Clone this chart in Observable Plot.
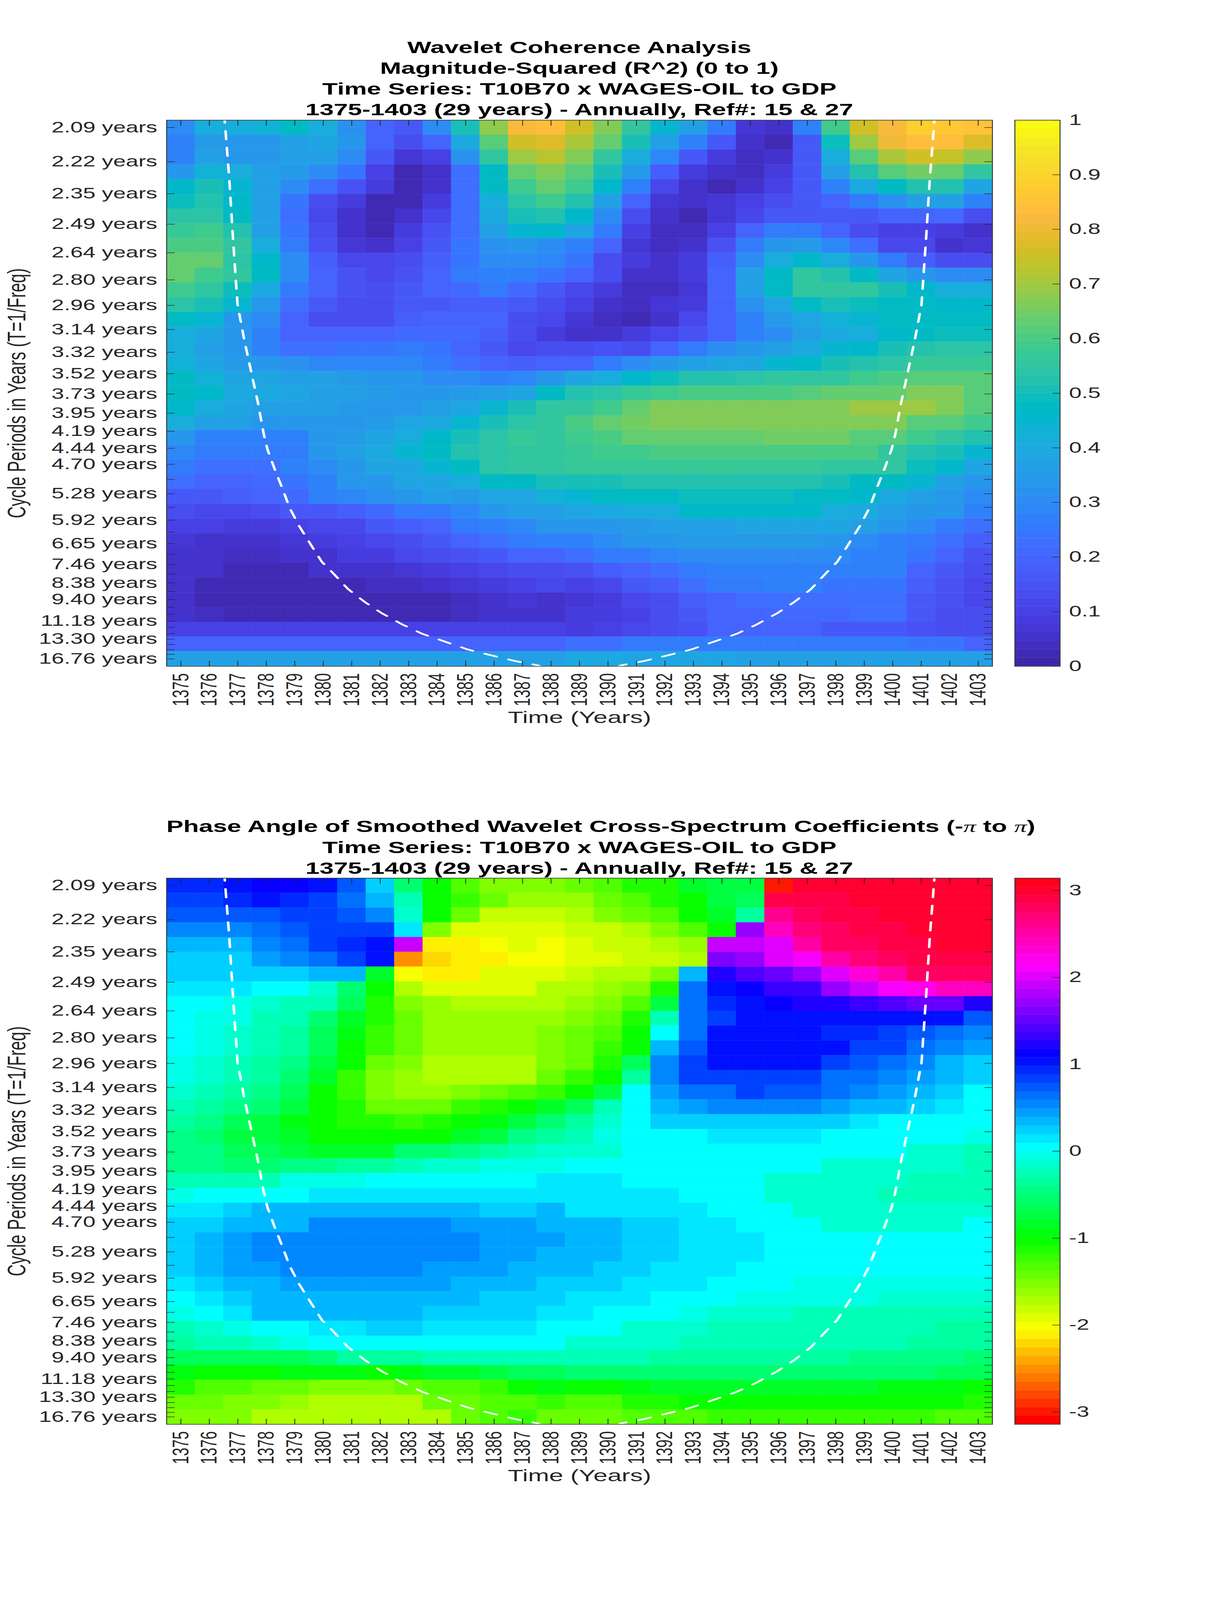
<!DOCTYPE html>
<html>
<head>
<meta charset="utf-8">
<title>Wavelet Coherence Analysis</title>
<script src="https://cdn.jsdelivr.net/npm/d3@7"></script>
<script src="https://cdn.jsdelivr.net/npm/@observablehq/plot@0.6"></script>
<style>
html,body{margin:0;padding:0;background:#fff;overflow:hidden;}
#page{position:absolute;left:0;top:0;width:3125px;height:6252px;background:#fff;overflow:hidden;font-family:"Liberation Sans",Arial,sans-serif;transform-origin:0 0;}
.title{position:absolute;left:426px;width:2113.5px;text-align:center;font-weight:700;font-size:65px;line-height:81.3px;color:#000;white-space:nowrap;}
.title .pi{font-family:"Liberation Serif",serif;font-style:italic;font-weight:400;}
.holder{position:absolute;}
.holder svg{display:block;overflow:visible;}
</style>
</head>
<body>
<div id="page"></div>
<script>
const years = [1375,1376,1377,1378,1379,1380,1381,1382,1383,1384,1385,1386,1387,1388,1389,1390,1391,1392,1393,1394,1395,1396,1397,1398,1399,1400,1401,1402,1403];
const periods = [2.0945,2.2190,2.3510,2.4908,2.6389,2.7958,2.9620,3.1382,3.3247,3.5224,3.7319,3.9538,4.1889,4.4380,4.7019,4.9815,5.2777,5.5915,5.9240,6.2763,6.6495,7.0449,7.4638,7.9077,8.3779,8.8761,9.4039,9.9631,10.5556,11.1833,11.8483,12.5528,13.2993,14.0901,14.9280,15.8157,16.7560];
const periodLabels = ["2.09 years","2.22 years","2.35 years","2.49 years","2.64 years","2.80 years","2.96 years","3.14 years","3.32 years","3.52 years","3.73 years","3.95 years","4.19 years","4.44 years","4.70 years","","5.28 years","","5.92 years","","6.65 years","","7.46 years","","8.38 years","","9.40 years","","","11.18 years","","","13.30 years","","","","16.76 years"];

const coherenceR2 = [
[.30,.42,.42,.43,.47,.42,.32,.20,.17,.30,.50,.68,.82,.83,.75,.66,.55,.45,.37,.25,.07,.06,.27,.58,.75,.82,.88,.87,.85],
[.28,.35,.33,.33,.36,.38,.33,.20,.13,.20,.40,.62,.76,.78,.71,.63,.50,.37,.28,.17,.06,.03,.17,.49,.70,.80,.83,.83,.78],
[.28,.36,.33,.33,.36,.37,.31,.17,.07,.10,.32,.55,.70,.73,.67,.56,.42,.29,.17,.08,.04,.06,.16,.42,.61,.71,.75,.74,.68],
[.34,.43,.41,.36,.35,.31,.24,.10,.03,.05,.23,.47,.63,.66,.62,.50,.35,.18,.08,.05,.04,.09,.16,.36,.52,.62,.65,.64,.55],
[.46,.50,.44,.36,.30,.22,.15,.08,.03,.05,.23,.47,.59,.63,.58,.46,.28,.11,.05,.03,.05,.10,.17,.27,.40,.48,.53,.53,.39],
[.49,.52,.46,.36,.24,.14,.08,.03,.03,.09,.22,.41,.54,.59,.53,.36,.19,.07,.05,.07,.10,.14,.17,.20,.26,.32,.37,.37,.27],
[.54,.54,.48,.36,.23,.12,.05,.02,.05,.12,.22,.40,.51,.53,.46,.31,.13,.06,.03,.07,.12,.17,.17,.17,.17,.20,.20,.21,.13],
[.57,.59,.53,.37,.24,.13,.05,.02,.09,.15,.23,.37,.45,.46,.38,.26,.10,.04,.04,.10,.20,.26,.25,.19,.13,.10,.10,.08,.05],
[.60,.60,.55,.42,.26,.15,.07,.05,.10,.17,.24,.32,.34,.30,.28,.19,.07,.04,.05,.15,.25,.34,.35,.29,.22,.12,.11,.06,.07],
[.63,.63,.54,.46,.30,.18,.11,.11,.14,.18,.24,.31,.30,.29,.24,.14,.08,.05,.09,.18,.30,.42,.46,.42,.34,.26,.18,.14,.14],
[.64,.59,.55,.47,.31,.20,.15,.12,.15,.19,.25,.28,.28,.24,.20,.14,.06,.05,.09,.20,.37,.47,.55,.53,.47,.38,.34,.30,.30],
[.58,.56,.49,.40,.26,.19,.15,.13,.17,.20,.21,.25,.21,.17,.12,.09,.04,.04,.07,.19,.36,.47,.56,.56,.55,.50,.46,.41,.41],
[.54,.51,.44,.33,.23,.16,.13,.13,.17,.17,.18,.18,.17,.14,.10,.06,.04,.07,.09,.19,.32,.39,.47,.50,.49,.47,.47,.46,.46],
[.47,.45,.34,.30,.20,.14,.14,.14,.18,.20,.20,.19,.14,.12,.07,.04,.03,.06,.11,.20,.27,.35,.39,.43,.45,.47,.47,.47,.47],
[.41,.38,.34,.28,.20,.19,.19,.19,.21,.21,.21,.18,.14,.08,.06,.06,.08,.11,.15,.19,.27,.31,.37,.40,.41,.46,.47,.49,.49],
[.41,.37,.33,.28,.23,.23,.24,.24,.25,.24,.20,.17,.12,.13,.14,.15,.14,.19,.25,.30,.33,.36,.40,.45,.46,.50,.52,.54,.54],
[.43,.38,.35,.33,.32,.29,.29,.29,.29,.26,.23,.20,.18,.19,.20,.25,.31,.33,.36,.38,.39,.45,.46,.50,.52,.54,.57,.57,.57],
[.47,.43,.38,.39,.37,.36,.35,.33,.33,.30,.30,.28,.29,.33,.38,.42,.46,.49,.52,.53,.54,.55,.56,.56,.58,.60,.61,.61,.61],
[.48,.46,.40,.40,.38,.37,.37,.35,.34,.33,.35,.36,.38,.47,.52,.54,.57,.59,.60,.60,.60,.60,.62,.63,.64,.64,.665,.665,.62],
[.46,.42,.38,.37,.36,.36,.35,.34,.33,.36,.38,.45,.50,.55,.56,.59,.64,.66,.66,.66,.66,.66,.66,.66,.695,.695,.695,.66,.62],
[.42,.37,.36,.34,.33,.33,.34,.35,.38,.40,.45,.51,.54,.56,.60,.64,.655,.66,.66,.66,.66,.66,.66,.66,.66,.66,.62,.61,.58],
[.33,.28,.28,.27,.27,.33,.35,.38,.41,.46,.51,.54,.57,.56,.58,.60,.625,.625,.625,.625,.625,.645,.645,.645,.61,.61,.58,.56,.52],
[.29,.25,.26,.25,.26,.33,.36,.40,.44,.47,.52,.54,.56,.56,.57,.59,.59,.60,.60,.60,.60,.60,.60,.60,.60,.55,.53,.50,.45],
[.25,.23,.22,.23,.27,.31,.33,.38,.39,.44,.48,.54,.55,.55,.57,.57,.57,.57,.57,.57,.57,.57,.57,.55,.55,.55,.49,.46,.38],
[.23,.20,.20,.21,.24,.27,.33,.34,.38,.39,.41,.47,.47,.50,.50,.50,.52,.52,.52,.53,.53,.52,.52,.50,.47,.47,.44,.37,.33],
[.17,.17,.18,.20,.21,.27,.29,.32,.34,.36,.35,.38,.38,.43,.45,.48,.47,.47,.49,.49,.49,.49,.47,.47,.46,.40,.36,.33,.30],
[.13,.12,.11,.14,.16,.17,.18,.21,.25,.26,.29,.34,.36,.37,.38,.40,.41,.41,.46,.46,.46,.46,.46,.42,.40,.36,.33,.33,.27],
[.10,.10,.08,.09,.10,.11,.12,.16,.18,.20,.25,.27,.29,.33,.34,.34,.35,.37,.37,.37,.38,.38,.38,.38,.37,.33,.30,.26,.22],
[.07,.06,.06,.06,.07,.09,.10,.12,.14,.17,.20,.22,.25,.28,.28,.30,.33,.33,.35,.35,.35,.35,.35,.33,.31,.28,.26,.22,.18],
[.05,.05,.04,.04,.05,.06,.08,.09,.11,.13,.15,.17,.19,.20,.23,.26,.26,.29,.31,.31,.31,.31,.30,.30,.27,.27,.24,.19,.15],
[.05,.05,.03,.03,.03,.05,.05,.06,.07,.08,.10,.12,.13,.14,.15,.18,.20,.23,.25,.27,.28,.28,.28,.28,.27,.27,.20,.17,.13],
[.05,.03,.03,.02,.02,.02,.02,.04,.04,.05,.07,.09,.10,.11,.10,.12,.16,.18,.23,.26,.26,.27,.27,.24,.24,.24,.18,.15,.12],
[.05,.03,.02,.02,.02,.02,.02,.03,.02,.03,.04,.06,.07,.06,.07,.08,.12,.13,.18,.20,.22,.22,.22,.23,.23,.23,.17,.15,.12],
[.05,.04,.03,.03,.02,.02,.02,.02,.02,.03,.04,.05,.06,.06,.08,.09,.10,.14,.16,.19,.19,.21,.21,.21,.22,.22,.16,.14,.13],
[.10,.10,.10,.10,.10,.10,.10,.10,.10,.10,.10,.10,.10,.10,.09,.10,.12,.14,.15,.19,.19,.19,.20,.17,.17,.17,.15,.14,.13],
[.20,.20,.20,.20,.20,.20,.20,.20,.20,.20,.20,.20,.20,.20,.22,.22,.26,.26,.26,.26,.26,.26,.26,.26,.26,.26,.24,.24,.20],
[.37,.37,.37,.37,.37,.37,.37,.37,.37,.37,.37,.37,.37,.37,.40,.40,.39,.39,.39,.39,.36,.36,.36,.36,.36,.36,.36,.36,.36]
];

const phaseAngle = [
[.95,.95,1.05,1.17,1.17,1.07,.72,.23,-.52,-1.0,-1.31,-1.5,-1.5,-1.5,-1.4,-1.3,-1.15,-1.08,-.8,-.75,-.75,-2.95,2.95,2.95,2.95,2.95,2.95,2.95,2.95],
[.86,.86,.92,1.05,.96,.82,.6,.33,-.24,-1.05,-1.25,-1.4,-1.6,-1.62,-1.58,-1.43,-1.3,-1.15,-1.05,-.7,-.65,2.88,2.88,2.88,2.95,2.95,2.95,2.95,2.95],
[.72,.72,.72,.72,.82,.82,.72,.52,-.12,-1.0,-1.43,-1.8,-1.8,-1.8,-1.75,-1.55,-1.43,-1.3,-1.05,-.87,-.38,2.62,2.81,2.88,2.88,2.98,2.98,2.98,2.98],
[.52,.52,.52,.65,.72,.82,.82,.82,.19,-1.57,-1.87,-1.87,-1.87,-1.9,-1.83,-1.83,-1.72,-1.57,-1.33,-1.05,1.69,2.39,2.72,2.79,2.86,2.88,3.0,3.0,3.0],
[.38,.38,.38,.55,.65,.85,.97,1.05,1.87,-2.09,-2.09,-1.98,-1.95,-1.97,-1.95,-1.83,-1.83,-1.7,-1.63,1.87,1.87,2.03,2.55,2.75,2.8,2.86,2.86,3.0,3.0],
[.24,.24,.24,.45,.55,.62,.82,1.05,-2.48,-2.2,-2.09,-2.09,-2.0,-1.97,-1.88,-1.88,-1.83,-1.83,-1.7,1.65,1.72,2.0,2.1,2.48,2.72,2.8,2.9,2.86,2.86],
[.2,.2,.2,.2,.2,.33,.33,-.79,-1.97,-2.09,-2.09,-1.95,-1.95,-1.88,-1.83,-1.75,-1.68,-1.5,.38,1.2,1.43,1.57,1.72,2.05,2.29,2.5,2.78,2.78,2.78],
[.14,.14,.14,0,0,-.1,-.52,-1.05,-1.68,-1.87,-1.87,-1.87,-1.87,-1.75,-1.7,-1.62,-1.5,-1.15,.62,1.05,1.17,1.3,1.37,1.72,1.9,2.08,2.2,2.4,2.4],
[0,0,-.08,-.15,-.25,-.25,-.6,-1.15,-1.55,-1.62,-1.75,-1.75,-1.75,-1.7,-1.62,-1.55,-1.35,-.75,.6,.92,1.05,1.12,1.2,1.2,1.33,1.4,1.57,1.57,1.2],
[0,-.06,-.06,-.2,-.27,-.55,-.8,-1.15,-1.4,-1.62,-1.62,-1.62,-1.62,-1.58,-1.55,-1.43,-1.15,-.27,.6,.87,1.0,1.05,1.05,1.05,1.05,1.05,1.05,1.0,.72],
[0,-.06,-.12,-.25,-.35,-.6,-.9,-1.2,-1.4,-1.62,-1.62,-1.62,-1.62,-1.52,-1.47,-1.35,-1.05,0,.68,1.0,1.05,1.05,1.03,.98,.98,.83,.75,.68,.52],
[0,-.06,-.15,-.25,-.33,-.68,-1.05,-1.2,-1.42,-1.62,-1.62,-1.62,-1.62,-1.48,-1.42,-1.22,-1.0,.33,.75,1.0,1.05,1.05,1.03,1.03,.87,.8,.6,.5,.4],
[-.08,-.12,-.2,-.3,-.4,-.72,-1.05,-1.4,-1.55,-1.7,-1.7,-1.7,-1.7,-1.5,-1.4,-1.15,-.6,.52,.88,1.0,1.05,1.03,1.0,.88,.78,.6,.5,.38,.25],
[-.08,-.14,-.25,-.35,-.5,-.85,-1.22,-1.55,-1.65,-1.7,-1.7,-1.7,-1.7,-1.4,-1.2,-1.05,-.3,.52,.85,.88,.88,.88,.88,.68,.6,.52,.48,.33,.2],
[-.17,-.2,-.3,-.42,-.62,-1.05,-1.2,-1.55,-1.6,-1.6,-1.55,-1.42,-1.3,-1.2,-1.05,-.7,0,.45,.65,.68,.8,.72,.72,.62,.52,.42,.3,.2,.07],
[-.27,-.3,-.4,-.5,-.7,-1.05,-1.15,-1.42,-1.42,-1.4,-1.27,-1.1,-1.03,-.85,-.6,-.25,0,.38,.42,.52,.52,.52,.52,.42,.35,.33,.25,.17,0],
[-.37,-.4,-.6,-.7,-.9,-1.03,-1.17,-1.17,-1.22,-1.15,-1.07,-.9,-.7,-.5,-.35,-.15,0,.2,.25,.25,.25,.25,.25,.25,.17,.05,.05,0,0],
[-.42,-.5,-.7,-.72,-.88,-1.0,-1.05,-1.05,-1.05,-1.0,-.8,-.7,-.42,-.3,-.27,-.08,0,.05,.05,.17,.17,.17,.17,.08,.08,.08,0,0,-.08],
[-.42,-.42,-.68,-.68,-.75,-.8,-.8,-.8,-.55,-.55,-.42,-.35,-.22,-.18,-.12,-.12,0,0,.05,.05,.05,.05,.05,0,0,0,-.1,-.1,-.2],
[-.42,-.42,-.55,-.55,-.45,-.45,-.35,-.3,-.25,-.1,-.1,-.05,-.05,-.05,0,0,0,0,0,0,0,0,0,-.15,-.15,-.15,-.15,-.15,-.28],
[-.25,-.25,-.25,-.2,-.05,-.05,-.05,0,0,0,0,.07,.07,.1,.1,.1,0,0,0,0,0,-.1,-.12,-.12,-.12,-.12,-.2,-.2,-.2],
[-.05,0,0,.08,.08,.18,.18,.18,.18,.18,.18,.18,.18,.18,.18,.1,.1,.1,0,0,0,-.1,-.12,-.12,-.12,-.2,-.2,-.2,-.2],
[.12,.12,.22,.3,.3,.37,.37,.37,.37,.37,.37,.25,.25,.3,.17,.17,.17,.12,.12,0,0,0,-.1,-.1,-.1,-.1,-.1,-.1,-.1],
[.2,.2,.33,.3,.33,.5,.5,.5,.5,.5,.42,.42,.42,.33,.3,.3,.22,.22,.12,.12,0,0,0,-.1,-.1,-.1,-.1,-.1,0],
[.25,.33,.42,.5,.5,.5,.5,.5,.5,.5,.5,.42,.42,.45,.3,.3,.25,.25,.14,.14,.12,0,0,0,0,0,0,0,0],
[.25,.33,.42,.5,.5,.5,.5,.5,.5,.5,.5,.42,.42,.34,.3,.3,.25,.25,.14,.14,.12,0,0,0,0,0,0,0,0],
[.25,.33,.42,.42,.5,.5,.5,.5,.5,.42,.42,.42,.33,.33,.33,.25,.22,.1,.1,.1,0,0,0,0,0,0,0,0,0],
[.15,.22,.33,.33,.42,.42,.42,.42,.42,.42,.33,.33,.33,.24,.25,.25,.12,.1,.1,0,0,0,-.05,-.07,-.07,-.07,-.07,-.07,-.07],
[0,.12,.2,.33,.33,.33,.33,.33,.33,.33,.33,.22,.22,.24,.1,.1,.1,0,0,0,-.05,-.07,-.07,-.07,-.07,-.15,-.17,-.17,-.17],
[-.05,0,.17,.3,.3,.33,.33,.33,.33,.25,.25,.25,.25,.15,.13,0,0,0,-.05,-.1,-.1,-.1,-.2,-.2,-.2,-.2,-.25,-.25,-.25],
[-.25,-.12,-.02,0,0,.12,.12,.2,.2,.12,.12,.12,.12,0,0,0,-.1,-.1,-.1,-.2,-.2,-.2,-.27,-.27,-.27,-.27,-.27,-.35,-.35],
[-.35,-.2,-.2,-.15,-.08,0,0,.08,.08,.08,0,0,0,0,-.1,-.1,-.12,-.12,-.2,-.2,-.2,-.27,-.27,-.27,-.27,-.27,-.35,-.35,-.35],
[-.62,-.62,-.62,-.62,-.62,-.5,-.38,-.3,-.3,-.22,-.22,-.22,-.22,-.22,-.22,-.22,-.22,-.3,-.3,-.3,-.3,-.3,-.3,-.38,-.4,-.4,-.4,-.4,-.55],
[-.95,-1.05,-1.05,-1.05,-.97,-.97,-.97,-1.02,-.95,-.85,-.8,-.7,-.6,-.6,-.55,-.55,-.55,-.55,-.55,-.55,-.55,-.55,-.55,-.55,-.55,-.55,-.55,-.65,-.65],
[-1.1,-1.3,-1.35,-1.45,-1.45,-1.55,-1.55,-1.55,-1.4,-1.35,-1.35,-1.2,-1.05,-.98,-1.0,-1.0,-.95,-.88,-.85,-.8,-.8,-.8,-.8,-.8,-.8,-.9,-.9,-.9,-1.0],
[-1.45,-1.45,-1.55,-1.55,-1.65,-1.67,-1.67,-1.67,-1.67,-1.42,-1.4,-1.3,-1.3,-1.2,-1.3,-1.3,-1.1,-1.1,-1.07,-1.0,-1.0,-1.0,-1.0,-1.0,-1.0,-1.02,-1.02,-1.02,-1.1],
[-1.52,-1.52,-1.52,-1.67,-1.67,-1.67,-1.67,-1.67,-1.67,-1.67,-1.4,-1.35,-1.25,-1.4,-1.45,-1.45,-1.3,-1.3,-1.3,-1.22,-1.22,-1.22,-1.22,-1.22,-1.22,-1.22,-1.22,-1.35,-1.35]
];

// Cone of influence: [year, period in years]
const coneLeft = [[1376.52,2.05],[1376.54,2.072],[1376.70,2.289],[1376.83,2.563],[1376.99,2.956],[1377.23,3.226],[1377.42,3.443],[1377.71,3.836],[1377.91,4.230],[1378.04,4.455],[1378.30,4.794],[1378.53,5.112],[1378.83,5.620],[1379.16,6.101],[1379.55,6.667],[1379.95,7.353],[1380.28,7.776],[1380.87,8.726],[1381.46,9.579],[1382.05,10.45],[1382.77,11.52],[1383.49,12.61],[1384.28,13.66],[1385.07,14.90],[1385.99,16.13],[1386.78,17.30],[1387.56,18.35],[1387.70,18.9]];
const coneRight = [[1401.48,2.05],[1401.46,2.072],[1401.30,2.289],[1401.17,2.563],[1401.01,2.956],[1400.77,3.226],[1400.58,3.443],[1400.29,3.836],[1400.09,4.230],[1399.96,4.455],[1399.70,4.794],[1399.47,5.112],[1399.17,5.620],[1398.84,6.101],[1398.45,6.667],[1398.05,7.353],[1397.72,7.776],[1397.13,8.726],[1396.54,9.579],[1395.95,10.45],[1395.23,11.52],[1394.51,12.61],[1393.72,13.66],[1392.93,14.90],[1392.01,16.13],[1391.22,17.30],[1390.44,18.35],[1390.30,18.9]];

const parula = [
[.2422,.1504,.6603],[.2504,.1650,.7076],[.2578,.1818,.7511],[.2647,.1978,.7952],[.2706,.2147,.8364],[.2751,.2342,.8710],[.2783,.2559,.8991],[.2803,.2782,.9221],
[.2813,.3006,.9414],[.2810,.3228,.9579],[.2795,.3447,.9717],[.2760,.3667,.9829],[.2699,.3892,.9906],[.2602,.4123,.9952],[.2440,.4358,.9988],[.2206,.4603,.9973],
[.1963,.4847,.9892],[.1834,.5074,.9798],[.1786,.5289,.9682],[.1764,.5499,.9520],[.1687,.5703,.9359],[.1540,.5902,.9218],[.1460,.6091,.9079],[.1380,.6276,.8973],
[.1248,.6459,.8883],[.1113,.6635,.8763],[.0952,.6798,.8598],[.0689,.6948,.8394],[.0297,.7082,.8163],[.0036,.7203,.7917],[.0067,.7312,.7660],[.0433,.7411,.7394],
[.0964,.7500,.7120],[.1408,.7584,.6842],[.1717,.7670,.6554],[.1938,.7758,.6251],[.2161,.7843,.5923],[.2470,.7918,.5567],[.2906,.7973,.5188],[.3406,.8008,.4789],
[.3909,.8029,.4354],[.4456,.8024,.3909],[.5044,.7993,.3480],[.5616,.7942,.3045],[.6174,.7876,.2612],[.6720,.7793,.2227],[.7242,.7698,.1910],[.7738,.7598,.1646],
[.8203,.7498,.1535],[.8634,.7406,.1596],[.9035,.7330,.1774],[.9393,.7288,.2100],[.9728,.7298,.2394],[.9956,.7434,.2371],[.9970,.7659,.2199],[.9952,.7861,.1991],
[.9892,.8086,.1846],[.9786,.8310,.1760],[.9676,.8545,.1650],[.9619,.8780,.1549],[.9597,.9000,.1432],[.9628,.9283,.1167],[.9691,.9552,.0880],[.9769,.9839,.0805]
].map(([r,g,b]) => d3.rgb(r*255,g*255,b*255).formatHex());
const hsvMap = d3.range(64).map(i => d3.hsl(i/64*360,1,.5).formatHex());

const coherenceTicks = [0,.1,.2,.3,.4,.5,.6,.7,.8,.9,1];
const phaseTicks = [-3,-2,-1,0,1,2,3];
const titleA = ["Wavelet Coherence Analysis","Magnitude-Squared (R^2) (0 to 1)","Time Series: T10B70 x WAGES-OIL to GDP","1375-1403 (29 years) - Annually, Ref#: 15 & 27"];
const titleB = ['Phase Angle of Smoothed Wavelet Cross-Spectrum Coefficients (-<span class="pi">π</span> to <span class="pi">π</span>)',"Time Series: T10B70 x WAGES-OIL to GDP","1375-1403 (29 years) - Annually, Ref#: 15 & 27"];

const INK = "#262626";
const TICK_FONT = 58, LABEL_FONT = 65;
const frameW = 2113.5, frameH = 2134;
const page = document.getElementById("page");

// The window may be shorter than the picture: fit the whole page in it.
page.style.transform = `scale(${Math.min(1,innerWidth/3125)},${Math.min(1,innerHeight/6252)})`;

const freqs = periods.map(p => 1/p);
const step = (freqs[0]-freqs[36])/36;
const freqDomain = [freqs[36]-step/2, freqs[0]+step/2];
const tickLabel = new Map(freqs.map((f,i)=>[f,periodLabels[i]]));

function place(node,left,top){
  const d=document.createElement("div");d.className="holder";d.style.left=left+"px";d.style.top=top+"px";
  d.appendChild(node);page.appendChild(d);
}
function addTitle(lines,top){
  const d=document.createElement("div");d.className="title";d.style.top=top+"px";
  d.innerHTML=lines.map(l=>l.replace(/ & /g," &amp; ")).join("<br>");page.appendChild(d);
}
function colorScale(min,max,colors){
  const n=colors.length;
  return {type:"threshold",domain:d3.range(1,n).map(i=>min+(max-min)*i/n),range:colors};
}

function panel(matrix,top,min,max,colors,barTicks,titleLines,titleTop){
  addTitle(titleLines,titleTop);
  const cells = matrix.flatMap((row,i)=>row.map((v,j)=>({
    x1:years[j]-.5,x2:years[j]+.5,y1:freqs[0]-i*step+step/2,y2:freqs[0]-i*step-step/2,v})));
  const mT=30,mB=300,mL=426,mR=30;
  const main = Plot.plot({
    width:mL+frameW+mR,height:mT+frameH+mB,marginTop:mT,marginBottom:mB,marginLeft:mL,marginRight:mR,
    style:{fontFamily:'"Liberation Sans",Arial,sans-serif',background:"transparent",color:INK},
    x:{type:"linear",domain:[1374.5,1403.5]},
    y:{type:"linear",domain:freqDomain},
    color:colorScale(min,max,colors),
    marks:[
      Plot.rect(cells,{x1:"x1",x2:"x2",y1:"y1",y2:"y2",fill:"v",stroke:"v",strokeWidth:.6,inset:0}),
      Plot.line(coneLeft,{x:d=>d[0],y:d=>1/d[1],stroke:"#fff",strokeWidth:6.5,strokeDasharray:"33 32",clip:true,curve:"linear"}),
      Plot.line(coneRight,{x:d=>d[0],y:d=>1/d[1],stroke:"#fff",strokeWidth:6.5,strokeDasharray:"33 32",clip:true,curve:"linear"}),
      Plot.axisX(years,{anchor:"bottom",tickSize:-21,tickPadding:48,tickRotate:-90,fontSize:TICK_FONT,tickFormat:d=>String(d),stroke:INK,strokeWidth:2,fill:INK,label:null}),
      Plot.axisX(years,{anchor:"top",tickSize:-21,text:null,stroke:INK,strokeWidth:2,label:null}),
      Plot.axisY(freqs,{anchor:"left",tickSize:-21,tickPadding:45,fontSize:TICK_FONT,tickFormat:f=>tickLabel.get(f),stroke:INK,strokeWidth:2,fill:INK,label:null}),
      Plot.axisY(freqs,{anchor:"right",tickSize:-21,text:null,stroke:INK,strokeWidth:2,label:null}),
      Plot.text(["Time (Years)"],{frameAnchor:"bottom",dy:222,fontSize:LABEL_FONT,fill:INK,lineAnchor:"bottom"}),
      Plot.text(["Cycle Periods in Years (T=1/Freq)"],{frameAnchor:"left",textAnchor:"middle",dx:-362,rotate:-90,fontSize:LABEL_FONT,fill:INK,lineAnchor:"bottom"}),
      Plot.frame({stroke:"#3a3a3a",strokeWidth:2.5})
    ]
  });
  place(main,0,top-mT);

  const n=colors.length;
  const bands=d3.range(n).map(i=>({y1:min+(max-min)*i/n,y2:min+(max-min)*(i+1)/n,v:min+(max-min)*(i+.5)/n}));
  const bW=115.6,bL=5,bR=140;
  const bar = Plot.plot({
    width:bL+bW+bR,height:mT+frameH+30,marginTop:mT,marginBottom:30,marginLeft:bL,marginRight:bR,
    style:{fontFamily:'"Liberation Sans",Arial,sans-serif',background:"transparent",color:INK},
    x:{type:"linear",domain:[0,1],axis:null},
    y:{type:"linear",domain:[min,max],axis:null},
    color:colorScale(min,max,colors),
    marks:[
      Plot.rect(bands,{x1:0,x2:1,y1:"y1",y2:"y2",fill:"v",stroke:"v",strokeWidth:.6}),
      Plot.axisY(barTicks,{anchor:"right",tickSize:-20,tickPadding:43,textAnchor:"start",fontSize:TICK_FONT,tickFormat:d=>String(d),stroke:INK,strokeWidth:2,fill:INK,label:null}),
      Plot.frame({stroke:"#3a3a3a",strokeWidth:2.5})
    ]
  });
  place(bar,2596.7-bL,top-mT);
}

panel(coherenceR2,469.3,0,1,parula,coherenceTicks,titleA,144);
panel(phaseAngle,3431,-Math.PI,Math.PI,hsvMap,phaseTicks,titleB,3188);

if(coherenceR2.some(r=>r.length!==29)||phaseAngle.some(r=>r.length!==29)||coherenceR2.length!==37||phaseAngle.length!==37||parula.length!==64)
  console.error("shape mismatch");
</script>
</body>
</html>
